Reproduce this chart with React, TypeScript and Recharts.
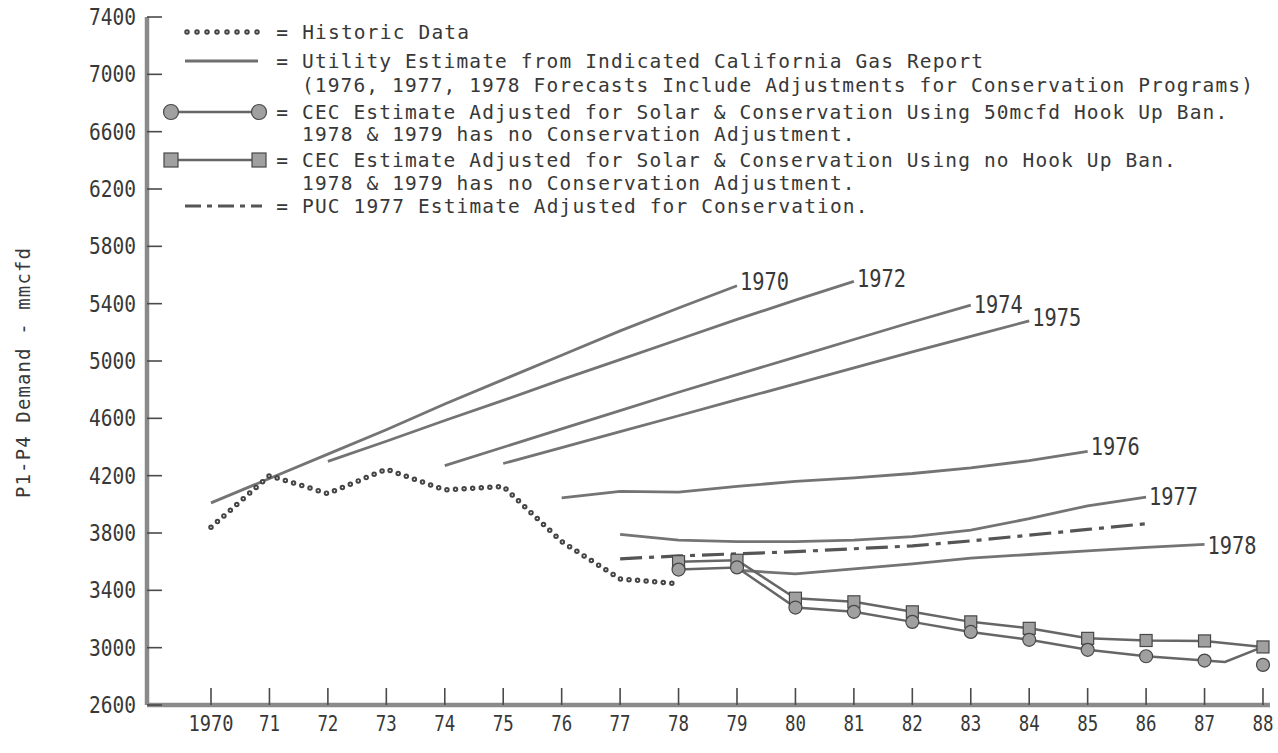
import React from "react";
import { LineChart, Line, XAxis, YAxis, Legend, LabelList } from "recharts";

const FONT = "'DejaVu Sans Mono', monospace";
const INK = "#383838";

// axis ticks
const yearTicks = [1970, 1971, 1972, 1973, 1974, 1975, 1976, 1977, 1978, 1979, 1980, 1981, 1982, 1983, 1984, 1985, 1986, 1987, 1988];
const demandTicks = [2600, 3000, 3400, 3800, 4200, 4600, 5000, 5400, 5800, 6200, 6600, 7000, 7400];

// historic demand (mmcfd), 1970-1978
const historicYears = [1970, 1971, 1972, 1973, 1974, 1975, 1976, 1977, 1978];
const historicDemand = [3840, 4200, 4075, 4245, 4100, 4125, 3740, 3480, 3445];

// utility forecasts, one value per year from the forecast year on
const utility1970 = [4010, 4180, 4350, 4520, 4700, 4870, 5040, 5210, 5370, 5525]; // 1970-79
const utility1972 = [4300, 4440, 4585, 4725, 4870, 5010, 5150, 5290, 5425, 5555]; // 1972-81
const utility1974 = [4270, 4398, 4526, 4654, 4782, 4905, 5027, 5150, 5272, 5390]; // 1974-83
const utility1975 = [4285, 4395, 4507, 4618, 4730, 4840, 4952, 5063, 5172, 5280]; // 1975-84
const utility1976 = [4045, 4090, 4085, 4125, 4160, 4185, 4215, 4255, 4305, 4370]; // 1976-85
const utility1977 = [3790, 3750, 3740, 3740, 3750, 3775, 3820, 3900, 3990, 4050]; // 1977-86
const utility1978 = [3540, 3515, 3550, 3585, 3625, 3650, 3675, 3700, 3720]; // 1979-87

// PUC 1977 estimate, 1977-1986
const puc1977 = [3620, 3640, 3655, 3670, 3690, 3710, 3745, 3785, 3825, 3865];

// CEC estimates, 1978 on
const cecNoBan = [3600, 3610, 3345, 3320, 3250, 3180, 3135, 3065, 3050, 3047, 3005]; // 1978-88
const cecBan = [3545, 3560, 3280, 3250, 3180, 3110, 3055, 2985, 2940, 2910]; // 1978-87
const cecJoinYears = [1987, 1987.35, 1988];
const cecJoinDemand = [2910, 2900, 3005];
const cecBanEndYears = [1988];
const cecBanEndDemand = [2880];

type Pt = { x: number; y: number; tag?: string };

const fromYear = (start: number, values: number[], tag?: string): Pt[] =>
  values.map((y, i) => ({ x: start + i, y, tag: tag && i === values.length - 1 ? tag : undefined }));
const zipPts = (xs: number[], ys: number[]): Pt[] => xs.map((x, i) => ({ x, y: ys[i] }));

const historicData = zipPts(historicYears, historicDemand);
const forecasts = [
  { key: "u1970", data: fromYear(1970, utility1970, "1970"), dy: -4 },
  { key: "u1972", data: fromYear(1972, utility1972, "1972"), dy: -2 },
  { key: "u1974", data: fromYear(1974, utility1974, "1974"), dy: 0 },
  { key: "u1975", data: fromYear(1975, utility1975, "1975"), dy: -3 },
  { key: "u1976", data: fromYear(1976, utility1976, "1976"), dy: -4 },
  { key: "u1977", data: fromYear(1977, utility1977, "1977"), dy: 0 },
  { key: "u1978", data: fromYear(1979, utility1978, "1978"), dy: 2 },
];
const pucData = fromYear(1977, puc1977);
const cecNoBanData = fromYear(1978, cecNoBan);
const cecBanData = fromYear(1978, cecBan);
const cecJoinData = zipPts(cecJoinYears, cecJoinDemand);
const cecBanEndData = zipPts(cecBanEndYears, cecBanEndDemand);

const MARK_FILL = "#a0a0a0";
const MARK_EDGE = "#474747";

const circleDot = (p: any) => (
  <circle key={`c-${p.index}`} cx={p.cx} cy={p.cy} r={6.5} fill={MARK_FILL} stroke={MARK_EDGE} strokeWidth={1.2} />
);
const squareDot = (p: any) => (
  <rect key={`s-${p.index}`} x={p.cx - 6} y={p.cy - 6} width={12} height={12} fill={MARK_FILL} stroke={MARK_EDGE} strokeWidth={1.2} />
);

const endLabel = (dy: number) => (p: any) => {
  if (p.value == null || p.value === "") return null;
  return (
    <text x={p.x + 3} y={p.y + dy + 8} fontFamily={FONT} fontSize={24} fill={INK} textLength={49} lengthAdjust="spacingAndGlyphs">
      {p.value}
    </text>
  );
};

function DemandTick({ x, y, payload }: any) {
  const ax = x + 11;
  return (
    <g>
      <line x1={ax} x2={ax + 15} y1={y} y2={y} stroke="#4a4a4a" strokeWidth={1.6} />
      <text x={x} y={y + 8} textAnchor="end" fontFamily={FONT} fontSize={23} fill={INK} textLength={47} lengthAdjust="spacingAndGlyphs">
        {payload.value}
      </text>
    </g>
  );
}

function YearTick({ x, y, payload }: any) {
  const v = payload.value as number;
  const text = v === 1970 ? "1970" : String(v).slice(2);
  return (
    <g>
      <line x1={x} x2={x} y1={y} y2={y - 17} stroke="#4a4a4a" strokeWidth={1.6} />
      <text x={x} y={y + 26} textAnchor="middle" fontFamily={FONT} fontSize={21} fill={INK} textLength={text.length === 4 ? 45 : 21} lengthAdjust="spacingAndGlyphs">
        {text}
      </text>
    </g>
  );
}

const PITCH = 12.85;
const legendRows = [
  { y: 32, x: 276.3, text: "= Historic Data" },
  { y: 61, x: 276.3, text: "= Utility Estimate from Indicated California Gas Report" },
  { y: 85, x: 302, text: "(1976, 1977, 1978 Forecasts Include Adjustments for Conservation Programs)" },
  { y: 112, x: 276.3, text: "= CEC Estimate Adjusted for Solar & Conservation Using 50mcfd Hook Up Ban." },
  { y: 134, x: 302, text: "1978 & 1979 has no Conservation Adjustment." },
  { y: 160, x: 276.3, text: "= CEC Estimate Adjusted for Solar & Conservation Using no Hook Up Ban." },
  { y: 183, x: 302, text: "1978 & 1979 has no Conservation Adjustment." },
  { y: 206, x: 276.3, text: "= PUC 1977 Estimate Adjusted for Conservation." },
];

function ChartLegend() {
  const r = legendRows;
  return (
    <svg width={1278} height={230} style={{ display: "block" }}>
      {r.map((row, i) => (
        <text key={i} x={row.x} y={row.y + 7} fontFamily={FONT} fontSize={19.5} fill={INK} textLength={row.text.length * PITCH} lengthAdjust="spacing">
          {row.text}
        </text>
      ))}
      {/* historic */}
      <line x1={187} x2={258} y1={r[0].y} y2={r[0].y} stroke="#444" strokeWidth={5.5} strokeDasharray="0 10" strokeLinecap="round" />
      <line x1={187} x2={258} y1={r[0].y} y2={r[0].y} stroke="#fff" strokeWidth={1.6} strokeDasharray="0 10" strokeLinecap="round" />
      {/* utility */}
      <line x1={185} x2={258} y1={r[1].y} y2={r[1].y} stroke="#6f6f6f" strokeWidth={3} />
      {/* CEC with ban */}
      <line x1={171} x2={259} y1={r[3].y} y2={r[3].y} stroke="#666" strokeWidth={2.5} />
      <circle cx={171} cy={r[3].y} r={7.5} fill={MARK_FILL} stroke={MARK_EDGE} strokeWidth={1.2} />
      <circle cx={259} cy={r[3].y} r={7.5} fill={MARK_FILL} stroke={MARK_EDGE} strokeWidth={1.2} />
      {/* CEC no ban */}
      <line x1={171} x2={259} y1={r[5].y} y2={r[5].y} stroke="#666" strokeWidth={2.5} />
      <rect x={164} y={r[5].y - 7} width={14} height={14} fill={MARK_FILL} stroke={MARK_EDGE} strokeWidth={1.2} />
      <rect x={252} y={r[5].y - 7} width={14} height={14} fill={MARK_FILL} stroke={MARK_EDGE} strokeWidth={1.2} />
      {/* PUC */}
      <line x1={185} x2={262} y1={r[7].y} y2={r[7].y} stroke="#555" strokeWidth={3} strokeDasharray="16 6 5 6" />
    </svg>
  );
}

const yTitle = (props: any) => {
  const vb = props.viewBox ?? { x: 0, y: 17, width: 147, height: 688 };
  const cx = vb.x + 30;
  const cy = vb.y + vb.height / 2 + 12;
  return (
    <text x={cx} y={cy} transform={`rotate(-90, ${cx}, ${cy})`} textAnchor="middle" fontFamily={FONT} fontSize={19} fill={INK} textLength={250} lengthAdjust="spacing">
      P1-P4 Demand - mmcfd
    </text>
  );
};

export default function App() {
  return (
    <div style={{ position: "absolute", left: 0, top: 0, width: 1278, height: 753, background: "#fff" }}>
      <LineChart width={1278} height={753} margin={{ top: 17, right: 8, bottom: 0, left: 0 }}>
        <XAxis
          dataKey="x"
          type="number"
          domain={[1968.905, 1988.12]}
          allowDataOverflow
          ticks={yearTicks}
          interval={0}
          height={48}
          tickSize={0}
          tickMargin={0}
          tick={<YearTick />}
          axisLine={{ stroke: "#8a8a8a", strokeWidth: 4.5 }}
          tickLine={false}
        />
        <YAxis
          dataKey="y"
          type="number"
          domain={[2600, 7400]}
          allowDataOverflow
          ticks={demandTicks}
          interval={0}
          width={147}
          tickSize={0}
          tickMargin={11}
          tick={<DemandTick />}
          axisLine={{ stroke: "#8a8a8a", strokeWidth: 4.5 }}
          tickLine={false}
          label={yTitle}
        />
        <Legend
          layout="horizontal"
          verticalAlign="middle"
          align="center"
          content={() => <ChartLegend />}
          wrapperStyle={{ left: 0, top: 0, width: 1278, height: 230 }}
        />
        {forecasts.map((f) => (
          <Line
            key={f.key}
            data={f.data}
            dataKey="y"
            type="linear"
            stroke="#747474"
            strokeWidth={2.8}
            dot={false}
            activeDot={false}
            isAnimationActive={false}
          >
            <LabelList dataKey="tag" content={endLabel(f.dy)} />
          </Line>
        ))}
        <Line data={historicData} dataKey="y" type="linear" stroke="#444" strokeWidth={5.5} strokeDasharray="0 8.6" strokeLinecap="round" dot={false} activeDot={false} isAnimationActive={false} />
        <Line data={historicData} dataKey="y" type="linear" stroke="#fff" strokeWidth={1.6} strokeDasharray="0 8.6" strokeLinecap="round" dot={false} activeDot={false} isAnimationActive={false} />
        <Line data={pucData} dataKey="y" type="linear" stroke="#555" strokeWidth={3.2} strokeDasharray="22 7 5 7" dot={false} activeDot={false} isAnimationActive={false} />
        <Line data={cecJoinData} dataKey="y" type="linear" stroke="#666" strokeWidth={2.5} dot={false} activeDot={false} isAnimationActive={false} />
        <Line data={cecNoBanData} dataKey="y" type="linear" stroke="#666" strokeWidth={2.5} dot={squareDot} activeDot={false} isAnimationActive={false} />
        <Line data={cecBanData} dataKey="y" type="linear" stroke="#666" strokeWidth={2.5} dot={circleDot} activeDot={false} isAnimationActive={false} />
        <Line data={cecBanEndData} dataKey="y" type="linear" stroke="none" dot={circleDot} activeDot={false} isAnimationActive={false} />
      </LineChart>
    </div>
  );
}
